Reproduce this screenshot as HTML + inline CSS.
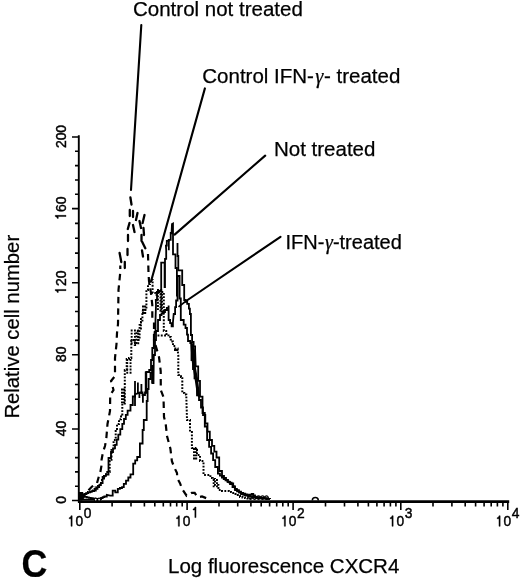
<!DOCTYPE html>
<html><head><meta charset="utf-8"><style>
html,body{margin:0;padding:0;background:#fff;width:520px;height:578px;overflow:hidden;}
svg{display:block;font-family:"Liberation Sans", sans-serif;will-change:transform;}
.tl,.tl text{stroke:#000;stroke-width:0.45px;}
text{stroke:#000;stroke-width:0.25px;}
</style></head><body>
<svg width="520" height="578" viewBox="0 0 520 578">
<path d="M78.8 135.3V501.5" stroke="#000" stroke-width="1.9" fill="none"/><path d="M77.9 501.6H509.2" stroke="#000" stroke-width="2.8" fill="none"/>
<path d="M72 500.5H78.8 M72 429H78.8 M72 354.8H78.8 M72 282.7H78.8 M72 208.6H78.8 M72 137H78.8 M75 486.2H78.8 M75 471.9H78.8 M75 457.6H78.8 M75 443.3H78.8 M75 414.2H78.8 M75 399.3H78.8 M75 384.5H78.8 M75 369.6H78.8 M75 340.4H78.8 M75 326.0H78.8 M75 311.5H78.8 M75 297.1H78.8 M75 267.9H78.8 M75 253.1H78.8 M75 238.2H78.8 M75 223.4H78.8 M75 194.3H78.8 M75 180.0H78.8 M75 165.6H78.8 M75 151.3H78.8 M79.8 501.5V510 M112.1 501.5V506.6 M131.0 501.5V506.6 M144.4 501.5V506.6 M154.8 501.5V506.6 M163.3 501.5V506.6 M170.5 501.5V506.6 M176.7 501.5V506.6 M182.2 501.5V506.6 M187.1 501.5V510 M219.0 501.5V506.6 M237.7 501.5V506.6 M250.9 501.5V506.6 M261.2 501.5V506.6 M269.6 501.5V506.6 M276.7 501.5V506.6 M282.8 501.5V506.6 M288.2 501.5V506.6 M293.1 501.5V510 M325.5 501.5V506.6 M344.5 501.5V506.6 M357.9 501.5V506.6 M368.4 501.5V506.6 M376.9 501.5V506.6 M384.1 501.5V506.6 M390.4 501.5V506.6 M395.9 501.5V506.6 M400.8 501.5V510 M433.0 501.5V506.6 M451.9 501.5V506.6 M465.2 501.5V506.6 M475.6 501.5V506.6 M484.1 501.5V506.6 M491.2 501.5V506.6 M497.4 501.5V506.6 M502.9 501.5V506.6 M507.8 501.5V510" stroke="#000" stroke-width="1.6" fill="none"/>
<defs><path id="one" d="M0.228 0.703L0.313 0.703L0.313 0L0.228 0L0.228 0.505L0.095 0.505L0.095 0.567Q0.165 0.585 0.2 0.635Q0.222 0.665 0.228 0.703Z"/></defs>
<g transform="translate(66.0 500.0) rotate(-90) scale(0.91 1)" class="tl"><text x="-4.25" y="0" font-size="15.3">0</text></g>
<g transform="translate(66.0 428.5) rotate(-90) scale(0.91 1)" class="tl"><text x="-8.51" y="0" font-size="15.3">40</text></g>
<g transform="translate(66.0 354.3) rotate(-90) scale(0.91 1)" class="tl"><text x="-8.51" y="0" font-size="15.3">80</text></g>
<g transform="translate(66.0 282.2) rotate(-90) scale(0.91 1)" class="tl"><use href="#one" transform="translate(-12.76 0.00) scale(15.3 -15.3)" stroke-width="0.0294"/><text x="-4.25" y="0" font-size="15.3">20</text></g>
<g transform="translate(66.0 208.1) rotate(-90) scale(0.91 1)" class="tl"><use href="#one" transform="translate(-12.76 0.00) scale(15.3 -15.3)" stroke-width="0.0294"/><text x="-4.25" y="0" font-size="15.3">60</text></g>
<g transform="translate(66.0 136.5) rotate(-90) scale(0.91 1)" class="tl"><text x="-12.76" y="0" font-size="15.3">200</text></g>
<g transform="translate(79.8 0) scale(0.92 1)" class="tl"><use href="#one" transform="translate(-13.00 526.30) scale(15 -15)" stroke-width="0.0300"/><text x="-4.66" y="526.3" font-size="15">0</text><text x="4.35" y="517.6" font-size="15">0</text></g>
<g transform="translate(187.1 0) scale(0.92 1)" class="tl"><use href="#one" transform="translate(-13.00 526.30) scale(15 -15)" stroke-width="0.0300"/><text x="-4.66" y="526.3" font-size="15">0</text><use href="#one" transform="translate(5.00 517.60) scale(15 -15)" stroke-width="0.0300"/></g>
<g transform="translate(293.1 0) scale(0.92 1)" class="tl"><use href="#one" transform="translate(-13.00 526.30) scale(15 -15)" stroke-width="0.0300"/><text x="-4.66" y="526.3" font-size="15">0</text><text x="4.35" y="517.6" font-size="15">2</text></g>
<g transform="translate(400.8 0) scale(0.92 1)" class="tl"><use href="#one" transform="translate(-13.00 526.30) scale(15 -15)" stroke-width="0.0300"/><text x="-4.66" y="526.3" font-size="15">0</text><text x="4.35" y="517.6" font-size="15">3</text></g>
<g transform="translate(507.8 0) scale(0.92 1)" class="tl"><use href="#one" transform="translate(-13.00 526.30) scale(15 -15)" stroke-width="0.0300"/><text x="-4.66" y="526.3" font-size="15">0</text><text x="4.35" y="517.6" font-size="15">4</text></g>
<text x="133" y="16.2" font-size="20.5">Control not treated</text>
<text x="202.3" y="82.8" font-size="20.5">Control IFN-<tspan font-family="Liberation Serif" font-style="italic" dx="1.2">&#947;</tspan><tspan dx="0.8">-</tspan> treated</text>
<text x="274" y="155.5" font-size="20.5">Not treated</text>
<text x="285.5" y="249" font-size="20">IFN-<tspan font-family="Liberation Serif" font-style="italic" dx="0.6">&#947;</tspan>-treated</text>
<text x="168" y="573.3" font-size="20.5">Log fluorescence CXCR4</text>
<text x="0" y="0" transform="translate(18.8 418.6) rotate(-90)" font-size="20.3">Relative cell number</text>
<text x="0" y="0" transform="translate(21.6 577) scale(0.94 1)" font-size="38" font-weight="bold">C</text>
<path d="M141.3 25L131 190" stroke="#000" stroke-width="2.1" stroke-linecap="round"/>
<path d="M204.9 88.4L151 281.5" stroke="#000" stroke-width="2.1" stroke-linecap="round"/>
<path d="M265.2 155.6L174.6 234.6" stroke="#000" stroke-width="2.1" stroke-linecap="round"/>
<path d="M280.5 236.8L186.1 301" stroke="#000" stroke-width="2.1" stroke-linecap="round"/>
<path d="M80.0 498.0 L86.0 493.0 L92.0 486.5 L96.8 483.8 L99.0 476.0 L100.2 473.0 L101.6 465.0 L101.6 459.6 L103.0 452.0 L105.0 446.0 L106.3 438.7 L107.0 430.0 L107.5 424.0 L110.0 411.0 L110.2 395.0 L113.5 390.0 L111.0 381.0 L115.0 376.0 L115.0 358.0 L116.5 344.0 L117.0 333.0 L118.0 324.0 L118.5 290.0 L120.3 272.0 L120.3 265.5" fill="none" stroke="#000" stroke-width="2.2" stroke-dasharray="6.5 5"/>
<path d="M148.0 254.0 L148.5 273.0 L149.0 281.0 L151.0 293.0 L152.3 305.0 L152.3 318.0 L154.0 322.0 L154.0 340.0 L159.0 357.0 L160.7 371.0 L160.8 390.0 L163.5 397.0 L164.0 417.0 L165.6 423.0 L167.0 436.0 L170.4 448.7 L171.9 461.2 L174.1 467.0 L177.0 473.0 L177.2 478.0 L180.0 483.2 L182.2 489.0 L186.6 495.7 L191.8 492.8 L194.7 492.8 L197.6 497.2 L202.0 496.5 L210.9 500.0" fill="none" stroke="#000" stroke-width="2.2" stroke-dasharray="6.5 5"/>
<path d="M130.4 197.5L131.5 204.5 M129.8 210L129.8 216 M133 211L133 217 M137.5 213L136 220 M144.5 215L142.6 223 M129.5 223L127.8 229 M133 225L134.5 232 M139.5 221L141 228 M143.5 228L144 235 M128 235L128 241 M141.5 235L141.5 241 M127.5 249L127.5 255 M124.8 262L124.8 268 M119.6 253L121.3 262 M142 250.5L143 256.5 M142 241.5L145.3 248.3" stroke="#000" stroke-width="2.3" stroke-linecap="round" fill="none"/>
<path d="M80.0 498.5 L82.0 498.5 L82.0 496.8 L84.0 496.8 L84.0 495.0 L86.0 495.0 L86.0 493.5 L88.0 493.5 L88.0 492.0 L90.5 492.0 L90.5 490.5 L93.0 490.5 L93.0 489.0 L95.5 489.0 L95.5 487.5 L98.0 487.5 L98.0 486.0 L100.0 486.0 L100.0 483.0 L102.0 483.0 L102.0 480.0 L104.0 480.0 L104.0 476.0 L106.0 476.0 L106.0 472.0 L109.7 472.0 L109.7 461.0 L111.5 461.0 L111.5 450.0 L113.6 450.0 L113.6 440.0 L115.7 440.0 L115.7 430.0 L117.0 430.0 L117.0 424.0 L119.0 424.0 L119.0 419.2 L121.0 419.2 L121.0 414.4 L122.3 414.4 L122.3 403.6 L124.8 403.6 L124.8 400.0 L124.8 370.0 L126.7 370.0 L126.7 359.0 L129.0 359.0 L129.0 358.0 L131.3 358.0 L131.3 357.0 L131.3 340.0 L134.8 340.0 L134.8 345.0 L136.5 345.0 L136.5 331.0 L138.3 331.0 L138.3 340.0 L139.6 340.0 L139.6 325.0 L141.0 325.0 L141.0 322.0 L142.4 322.0 L142.4 314.0 L143.0 310.0 L146.4 310.0 L146.4 305.0 L146.4 290.0 L148.0 290.0 L148.0 284.0 L150.0 284.0 L150.0 280.0 L152.6 280.0 L152.6 286.0 L152.6 293.0 L155.4 293.0 L155.4 295.0 L157.0 295.0 L157.0 290.0 L160.5 290.0 L160.5 312.0 L162.0 312.0 L162.0 292.0 L163.8 292.0 L163.8 331.0 L166.2 331.0 L166.2 334.0 L168.5 334.0 L168.5 337.0 L170.8 337.0 L170.8 341.5 L173.0 341.5 L173.0 346.0 L175.3 346.0 L175.3 348.4 L177.7 348.4 L177.7 350.7 L178.3 355.0 L178.3 375.0 L181.0 375.0 L181.0 377.0 L182.3 377.0 L182.3 393.0 L184.3 393.0 L184.3 394.5 L186.3 394.5 L186.3 396.0 L187.0 420.0 L190.0 420.0 L190.0 432.0 L191.9 432.0 L191.9 441.0 L191.9 448.0 L195.4 448.0 L195.4 449.0 L197.0 449.0 L197.0 455.0 L200.0 455.0 L200.0 461.0 L203.5 461.0 L203.5 465.0 L203.5 475.0 L207.0 475.0 L210.4 475.0 L210.4 478.0 L212.7 478.0 L212.7 479.0 L215.0 479.0 L215.0 485.0 L218.4 485.0 L218.4 490.0 L222.0 490.0 L222.0 491.0 L226.5 491.0 L228.8 491.0 L228.8 492.0 L231.0 492.0 L231.0 493.0 L233.2 493.0 L233.2 494.0 L235.5 494.0 L235.5 495.0 L237.8 495.0 L237.8 496.0 L240.0 496.0 L240.0 497.0 L242.5 497.0 L242.5 497.5 L245.0 497.5 L245.0 498.0 L247.5 498.0 L247.5 498.5 L250.0 498.5 L250.0 499.0" fill="none" stroke="#000" stroke-width="2" stroke-dasharray="1.8 1.5"/>
<path d="M79.0 497.0 L80.5 497.0 L80.5 495.7 L83.1 494.8 L84.8 494.8 L84.8 494.0 L86.5 494.0 L86.5 493.1 L88.2 493.1 L88.2 492.3 L90.2 492.3 L90.2 491.7 L92.1 491.7 L92.1 491.2 L94.1 491.2 L94.1 490.6 L95.8 490.6 L95.8 488.9 L97.5 488.9 L97.5 487.2 L99.2 487.2 L99.2 485.1 L100.9 485.1 L100.9 483.0 L102.6 483.0 L102.6 477.0 L104.3 477.0 L104.3 475.8 L106.0 475.8 L106.0 474.5 L108.5 474.5 L108.5 470.0 L108.5 458.0 L111.0 458.0 L111.0 452.0 L113.0 452.0 L113.0 448.4 L115.0 448.4 L115.0 444.8 L116.7 444.8 L116.7 439.7 L118.3 439.7 L118.3 434.6 L120.3 434.6 L120.3 429.2 L122.3 429.2 L122.3 423.8 L124.0 423.8 L124.0 419.0 L125.8 419.0 L125.8 414.9 L127.6 414.9 L127.6 410.7 L130.5 410.7 L130.5 405.0 L132.8 405.0 L132.8 396.5 L135.1 396.5 L135.1 394.2 L137.9 393.4 L140.0 392.5 L142.5 392.5 L142.5 395.0 L145.0 395.0 L145.0 392.5 L146.3 392.5 L146.3 386.0 L146.3 372.0 L149.2 372.0 L149.2 370.0 L151.0 370.0 L151.0 360.0 L152.3 360.0 L152.3 348.0 L153.8 348.0 L153.8 340.0 L154.6 332.0 L155.5 332.0 L155.5 320.0 L156.0 305.0 L155.8 300.0 L157.0 300.0 L157.0 292.0 L159.1 292.0 L159.1 291.0 L161.2 291.0 L161.2 290.0 L161.2 262.7 L164.6 262.7 L164.6 287.0 L165.0 287.0 L165.0 258.8 L166.2 258.8 L166.2 250.0 L165.9 245.6 L166.8 245.6 L166.8 240.8 L168.7 240.8 L168.7 239.8 L170.7 239.8 L170.7 232.0 L171.5 234.0 L172.0 224.0 L173.0 223.5 L173.0 254.3 L175.5 254.3 L175.5 268.0 L176.9 268.0 L176.9 296.4" fill="none" stroke="#000" stroke-width="1.8"/>
<path d="M177.5 243.0 L177.5 256.0 L178.3 256.0 L178.3 270.4 L182.2 270.4 L182.2 285.0 L184.2 285.0 L184.2 290.4 L184.2 300.0 L185.7 300.0 L185.7 301.9 L187.2 301.9 L187.2 303.8 L188.9 303.8 L188.9 308.6 L189.9 308.6 L189.9 314.0 L190.9 314.0 L190.9 318.6 L190.9 335.0 L192.1 335.0 L192.1 342.0 L193.6 342.0 L193.6 346.3 L195.1 346.3 L195.1 350.6 L195.7 366.3 L198.2 366.3 L198.2 380.8 L200.0 380.8 L200.0 396.6 L202.5 396.6 L202.5 413.0 L204.8 413.0 L204.8 426.5 L207.1 426.5 L207.1 440.0 L209.1 440.0 L209.1 446.8 L211.1 446.8 L211.1 453.5 L213.1 453.5 L213.1 460.2 L215.2 460.2 L215.2 467.0 L217.9 467.0 L217.9 473.6 L219.9 473.6 L219.9 475.6 L221.9 475.6 L221.9 477.7 L223.7 477.7 L223.7 479.0 L225.5 479.0 L225.5 480.4 L227.3 480.4 L227.3 481.7 L229.4 481.7 L229.4 482.6 L231.6 482.6 L231.6 483.5 L233.2 483.5 L233.2 486.1 L234.8 486.1 L234.8 488.8 L236.9 488.8 L236.9 490.2 L238.9 490.2 L238.9 491.6 L241.0 491.6 L241.0 493.0 L243.2 493.0 L243.2 493.7 L245.3 493.7 L245.3 494.5 L247.5 494.5 L247.5 495.2 L249.6 495.2 L249.6 494.6 L251.7 494.6 L251.7 494.0 L253.3 494.0 L253.3 495.5 L255.0 495.5 L255.0 497.0 L256.9 497.0 L256.9 497.2 L258.8 497.2 L258.8 497.5 L260.6 497.5 L260.6 497.8 L262.5 497.8 L262.5 498.0 L264.4 498.0 L264.4 498.2 L266.2 498.2 L266.2 498.5 L268.1 498.5 L268.1 498.8 L270.0 498.8 L270.0 499.0" fill="none" stroke="#000" stroke-width="1.8"/>
<path d="M186.1 301L178.5 306.9" stroke="#000" stroke-width="1.6"/>
<path d="M190.3 342L192.1 342L195.1 350.6L195.7 366.3L198.2 380.8L200 396.6L199.4 398L197 395.4L194.5 378.4L191.5 360Z" fill="#000"/>
<path d="M135 381V406M137.9 382.5V394M139.4 392.6V398M141.4 384V394M142.9 393.4V402.7M145.7 371.6V394M152.3 365V383.2M168.8 240V250.2" stroke="#000" stroke-width="1.8" fill="none"/>
<path d="M80.0 499.5 L81.5 499.5 L81.5 498.0 L83.0 498.0 L83.0 496.5 L84.9 496.5 L84.9 496.9 L86.8 496.9 L86.8 497.4 L88.8 497.4 L88.8 497.8 L90.7 497.8 L90.7 498.2 L92.8 498.2 L92.8 498.7 L95.0 498.7 L95.0 499.2 L99.0 499.2 L101.0 499.2 L101.0 498.0 L102.7 498.0 L102.7 497.2 L104.3 497.2 L104.3 496.5 L106.8 496.5 L106.8 494.8 L110.2 495.7 L112.7 495.7 L112.7 490.6 L115.3 490.6 L115.3 492.3 L117.8 492.3 L117.8 488.9 L119.9 488.9 L119.9 488.0 L122.0 488.0 L122.0 487.2 L123.8 487.2 L123.8 483.8 L126.0 483.8 L126.0 480.7 L128.3 480.7 L128.3 477.5 L130.5 477.5 L130.5 474.4 L133.2 474.4 L133.2 463.6 L135.2 463.6 L135.2 460.3 L137.2 460.3 L137.2 457.0 L139.9 457.0 L139.9 443.5 L142.6 443.5 L142.6 430.0 L143.8 430.0 L143.8 420.0 L146.7 420.0 L146.7 401.0 L147.6 401.0 L147.6 389.0 L148.6 389.0 L148.6 379.0 L150.5 379.0 L150.5 372.6 L152.4 372.6 L152.4 365.0 L152.4 383.0 L153.5 383.0 L153.8 355.0 L155.0 355.0 L155.0 340.0 L156.0 340.0 L156.0 331.0 L158.0 331.0 L158.0 320.0 L160.0 320.0 L160.0 315.0 L161.5 315.0 L161.5 313.5 L163.0 313.5 L163.0 312.0 L165.0 312.0 L165.0 310.0 L166.8 310.0 L166.8 307.8 L168.6 307.8 L168.6 305.6 L168.6 320.0 L170.1 320.0 L170.1 323.1 L171.6 323.1 L171.6 326.3 L172.9 326.3 L172.9 322.9 L173.7 314.0 L175.1 314.0 L175.1 307.2 L176.1 307.2 L176.1 300.5 L177.5 300.5 L177.5 297.0 L177.5 276.0 L179.6 276.0 L179.6 298.5 L180.8 298.5 L180.8 320.0 L183.7 320.0 L183.7 324.6 L185.5 324.6 L185.5 328.0 L187.0 328.0 L187.0 334.6 L188.0 334.6 L188.0 341.0 L190.3 341.0 L190.3 343.0 L191.5 343.0 L191.5 360.0 L193.0 360.0 L193.0 369.2 L194.5 369.2 L194.5 378.4 L197.0 378.4 L197.0 395.4 L199.0 395.4 L199.0 400.0 L201.0 400.0 L201.0 407.5 L203.0 407.5 L203.0 415.0 L205.3 415.0 L205.3 423.3 L207.5 423.3 L207.5 431.7 L209.8 431.7 L209.8 440.0 L212.0 440.0 L212.0 445.8 L214.3 445.8 L214.3 451.7 L216.5 451.7 L216.5 457.5 L219.2 457.5 L219.2 471.0 L222.0 471.0 L222.0 476.0 L224.0 476.0 L224.0 478.0 L226.0 478.0 L226.0 480.0 L228.0 480.0 L228.0 482.0 L230.0 482.0 L230.0 484.0 L232.5 484.0 L232.5 487.0 L235.0 487.0 L235.0 490.0 L237.0 490.0 L237.0 491.3 L239.0 491.3 L239.0 492.7 L241.0 492.7 L241.0 494.0 L242.8 494.0 L242.8 494.5 L244.5 494.5 L244.5 495.0 L246.2 495.0 L246.2 495.5 L248.0 495.5 L248.0 496.0 L250.0 496.0 L250.0 496.5 L252.0 496.5 L252.0 497.0 L254.0 497.0 L254.0 497.5 L256.0 497.5 L256.0 498.0 L258.0 498.0 L258.0 498.1 L260.0 498.1 L260.0 498.3 L262.0 498.3 L262.0 498.4 L264.0 498.4 L264.0 498.6 L266.0 498.6 L266.0 498.7 L268.0 498.7 L268.0 498.9 L270.0 498.9 L270.0 499.0" fill="none" stroke="#000" stroke-width="1.8"/>
<path d="M79 499.6H100" stroke="#000" stroke-width="1.8"/>
<path d="M130.7 329.5h1.9v1.9h-1.9zM134.0 329.5h1.9v1.9h-1.9zM137.3 329.5h1.9v1.9h-1.9zM130.7 332.7h1.9v1.9h-1.9zM134.0 332.7h1.9v1.9h-1.9zM137.3 332.7h1.9v1.9h-1.9zM130.7 335.9h1.9v1.9h-1.9zM134.0 335.9h1.9v1.9h-1.9zM137.3 335.9h1.9v1.9h-1.9zM130.7 339.1h1.9v1.9h-1.9zM134.0 339.1h1.9v1.9h-1.9zM137.3 339.1h1.9v1.9h-1.9zM130.7 342.3h1.9v1.9h-1.9zM134.0 342.3h1.9v1.9h-1.9zM137.3 342.3h1.9v1.9h-1.9zM140.0 318.0h1.9v1.9h-1.9zM140.0 321.2h1.9v1.9h-1.9zM140.0 324.4h1.9v1.9h-1.9zM140.0 327.6h1.9v1.9h-1.9zM142.0 305.6h4.2v1.9h-4.2zM142.0 308.8h4.2v1.9h-4.2zM142.0 312.0h4.2v1.9h-4.2zM126.3 359.0h1.9v1.9h-1.9zM129.6 359.0h1.9v1.9h-1.9zM126.3 362.2h1.9v1.9h-1.9zM129.6 362.2h1.9v1.9h-1.9zM126.3 365.4h1.9v1.9h-1.9zM129.6 365.4h1.9v1.9h-1.9zM126.3 368.6h1.9v1.9h-1.9zM129.6 368.6h1.9v1.9h-1.9zM126.3 371.8h1.9v1.9h-1.9zM129.6 371.8h1.9v1.9h-1.9zM121.0 388.6h4.2v1.9h-4.2zM121.0 391.8h4.2v1.9h-4.2zM121.0 395.0h4.2v1.9h-4.2zM121.0 398.2h4.2v1.9h-4.2zM121.0 401.4h4.2v1.9h-4.2zM157.0 289.0h1.9v1.9h-1.9zM160.3 289.0h1.9v1.9h-1.9zM157.0 292.2h1.9v1.9h-1.9zM160.3 292.2h1.9v1.9h-1.9zM157.0 295.4h1.9v1.9h-1.9zM160.3 295.4h1.9v1.9h-1.9zM157.0 298.6h1.9v1.9h-1.9zM160.3 298.6h1.9v1.9h-1.9zM157.0 301.8h1.9v1.9h-1.9zM160.3 301.8h1.9v1.9h-1.9zM157.0 305.0h1.9v1.9h-1.9zM160.3 305.0h1.9v1.9h-1.9zM157.0 308.2h1.9v1.9h-1.9zM160.3 308.2h1.9v1.9h-1.9zM193.0 448.0h4.2v1.9h-4.2zM193.0 451.2h4.2v1.9h-4.2zM193.0 454.4h4.2v1.9h-4.2zM193.0 457.6h4.2v1.9h-4.2zM212.7 479.0h1.9v1.9h-1.9zM216.0 479.0h1.9v1.9h-1.9zM212.7 482.2h1.9v1.9h-1.9zM216.0 482.2h1.9v1.9h-1.9zM212.7 485.4h1.9v1.9h-1.9zM216.0 485.4h1.9v1.9h-1.9zM157.5 334.5h1.9v1.9h-1.9zM160.8 334.5h1.9v1.9h-1.9zM164.1 334.5h1.9v1.9h-1.9zM174.0 349.0h4.2v1.9h-4.2z" fill="#000"/>
<path d="M312.3 500.5a3 3 0 0 1 6 0" stroke="#000" stroke-width="1.5" fill="none"/>
<path d="M248.8 497.6a1.7 1.7 0 1 0 3.4 0a1.7 1.7 0 1 0 -3.4 0M252.8 497.6a1.7 1.7 0 1 0 3.4 0a1.7 1.7 0 1 0 -3.4 0M256.8 497.6a1.7 1.7 0 1 0 3.4 0a1.7 1.7 0 1 0 -3.4 0M260.8 497.6a1.7 1.7 0 1 0 3.4 0a1.7 1.7 0 1 0 -3.4 0M264.8 497.6a1.7 1.7 0 1 0 3.4 0a1.7 1.7 0 1 0 -3.4 0" stroke="#000" stroke-width="1.2" fill="none"/>
<path d="M94.2 499.6a1.5 1.5 0 1 0 3 0a1.5 1.5 0 1 0 -3 0M97.6 499.6a1.5 1.5 0 1 0 3 0a1.5 1.5 0 1 0 -3 0" stroke="#000" stroke-width="1.2" fill="#fff"/>
<path d="M79 492H83L85 497L79 500Z" fill="#000"/>
</svg></body></html>
